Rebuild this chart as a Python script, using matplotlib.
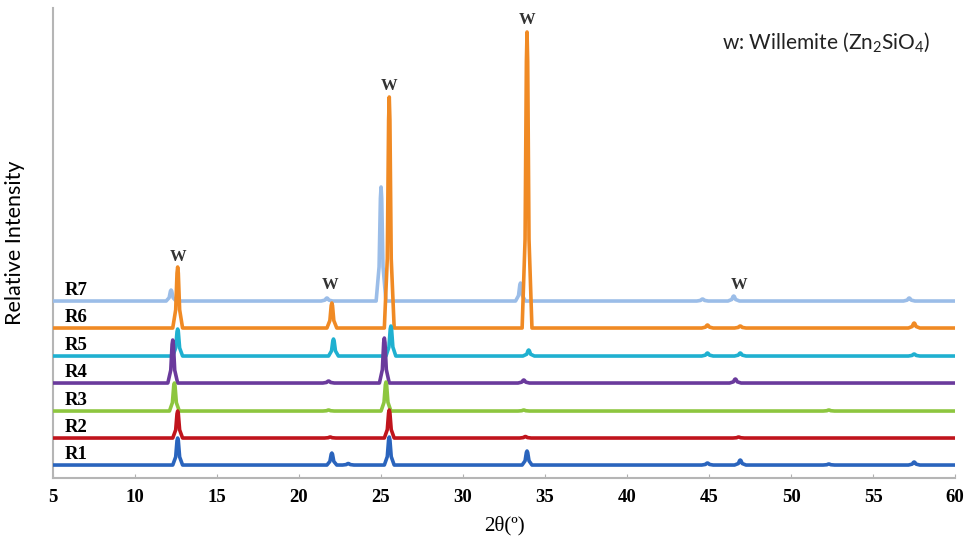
import matplotlib.pyplot as plt
import numpy as np

plt.rcParams['mathtext.default'] = 'regular'

names = ['R1', 'R2', 'R3', 'R4', 'R5', 'R6', 'R7']
colors = ['#2a64bd', '#c0141c', '#8dc63f', '#6a3a9c', '#1fb0d0', '#f08a24', '#9bbde8']
# baseline of each pattern (stacked offsets)
offsets = [13, 40, 67, 95, 122, 150, 177]

# peak positions (2theta) and heights above baseline
peak_pos = [
    [12.6, 22.0, 23.0, 25.5, 33.9, 44.9, 46.9, 52.3, 57.5],   # R1
    [12.6, 21.9, 25.5, 33.8, 46.8],                           # R2
    [12.4, 21.8, 25.3, 33.7, 52.3],                           # R3
    [12.3, 21.8, 25.2, 33.7, 46.6],                           # R4
    [12.6, 22.1, 25.6, 34.0, 44.9, 46.9, 57.5],               # R5
    [12.6, 22.0, 25.5, 33.9, 44.9, 46.9, 57.5],               # R6
    [12.2, 21.7, 25.0, 33.5, 44.6, 46.5, 57.2],               # R7
]
peak_h = [
    [27, 12, 1.5, 28, 14, 2, 5, 1, 3],
    [27, 1, 28, 1.5, 1],
    [28, 1, 29, 1, 1],
    [43, 2, 45, 3, 4],
    [27, 17, 30, 6, 3, 3, 2],
    [61, 25, 231, 296, 3, 2, 5],
    [11, 3, 114, 18, 2, 5, 3],
]

w_pos = [12.6, 21.9, 25.5, 33.9, 46.8]
w_y = [221, 193, 392, 458, 193]

fig = plt.figure(figsize=(9.69, 5.52), dpi=100)
ax = fig.add_axes([0.0547, 0.134, 0.931, 0.8515])

for i in range(len(names) - 1, -1, -1):
    xs = [5.0]
    ys = [offsets[i]]
    for p, h in zip(peak_pos[i], peak_h[i]):
        wd = 0.3 if h > 8 else 0.35
        xs += [p - wd, p - 0.12, p - 0.04, p, p + 0.04, p + 0.12, p + wd]
        ys += [offsets[i], offsets[i] + 0.3 * h, offsets[i] + 0.9 * h,
               offsets[i] + h, offsets[i] + 0.9 * h, offsets[i] + 0.3 * h,
               offsets[i]]
    xs.append(60.0)
    ys.append(offsets[i])
    ax.plot(xs, ys, color=colors[i], lw=2.6, solid_joinstyle='round',
            zorder=10 - i)
    ax.text(5.7, offsets[i] + 11, names[i], fontsize=13.5, fontweight='bold',
            family='Liberation Serif', va='center', ha='left')

for x, y in zip(w_pos, w_y):
    ax.text(x, y, 'W', fontsize=12, fontweight='bold', family='Liberation Serif',
            ha='center', va='center', color='#333333')

ax.text(0.857, 0.928, 'w: Willemite (Zn$_2$SiO$_4$)', transform=ax.transAxes,
        fontsize=15, family='Lato', ha='center', va='center', color='#222222')

ax.set_xlim(5, 60)
ax.set_ylim(0, 470)
ax.set_xticks(np.arange(5, 61, 5))
ax.set_yticks([])
for lab in ax.get_xticklabels():
    lab.set_family('Liberation Serif')
    lab.set_fontweight('bold')
    lab.set_fontsize(13.5)
ax.tick_params(axis='x', direction='in', length=3, color='#b0b0b0', pad=8)
for s in ['top', 'right']:
    ax.spines[s].set_visible(False)
for s in ['left', 'bottom']:
    ax.spines[s].set_color('#b5b5b5')
    ax.spines[s].set_linewidth(1.5)

ax.set_xlabel('2θ(º)', fontsize=15, family='Liberation Serif', labelpad=7)
ax.set_ylabel('Relative Intensity', fontsize=15.5, family='Lato', labelpad=20)

fig.savefig('out.png', dpi=100)
